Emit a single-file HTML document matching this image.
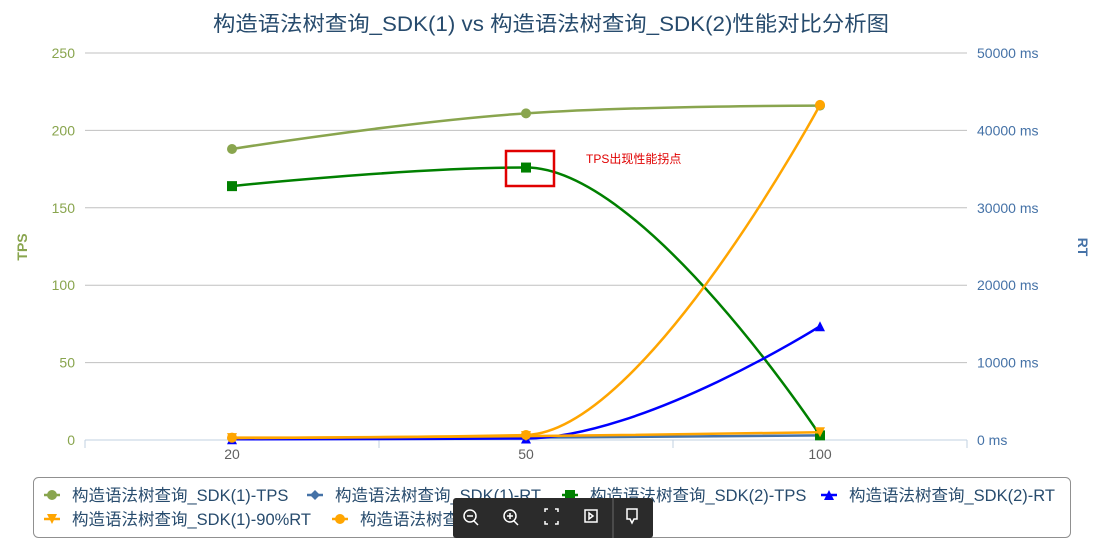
<!DOCTYPE html>
<html><head><meta charset="utf-8"><style>
body{margin:0;background:#fff;width:1105px;height:551px;overflow:hidden;font-family:"Liberation Sans","Noto Sans CJK SC",sans-serif}
svg{position:absolute;left:0;top:0}
#tb{position:absolute;left:453px;top:498px;width:200px;height:40px;background:#2b2b2b;border-radius:3px;}
</style></head><body>
<svg id="c" width="1105" height="551"></svg>
<div id="tb">
<svg width="200" height="40">
<g stroke="#fff" fill="none" stroke-width="1.5">
<g><circle cx="17" cy="18" r="6"/><line x1="14" y1="18" x2="20" y2="18"/><line x1="21" y1="23" x2="25" y2="27"/></g>
<g><circle cx="57" cy="18" r="6"/><line x1="54" y1="18" x2="60" y2="18"/><line x1="57" y1="15" x2="57" y2="21"/><line x1="61" y1="23" x2="65" y2="27"/></g>
<g><path d="M92 14v-3h3M105 14v-3h-3M92 23v3h3M105 23v3h-3"/></g>
<g><rect x="132" y="12" width="12" height="12"/><path d="M136 15l4 3-4 3z"/></g>
<line x1="160" y1="0" x2="160" y2="40" stroke="#555"/>
<g><path d="M174 11h10v10h-3l-2 4-2-4h-3z"/></g>
</g></svg></div>
<script>
const categories=['20','50','100'];
const tpsTicks=[0,50,100,150,200,250];
const rtTicks=[0,10000,20000,30000,40000,50000];
const sdk1Tps=[188,211,216];
const sdk1Rt=[150,300,600];
const sdk2Tps=[164,176,3];
const sdk2Rt=[100,200,14700];
const sdk1Rt90=[250,500,1000];
const sdk2Rt90=[300,650,43300];

const NS='http://www.w3.org/2000/svg';
const svg=document.getElementById('c');
function mk(t,a,p){const e=document.createElementNS(NS,t);for(const k in a)e.setAttribute(k,a[k]);(p||svg).appendChild(e);return e;}
const L=85,R=967,T=53,B=440;
const band=(R-L)/categories.length;
const xS=i=>L+band*(i+0.5);
const yL=v=>B-(v/250)*(B-T);
const yR=v=>B-(v/50000)*(B-T);

let t=mk('text',{x:213,y:31,'font-size':21,fill:'#274b6d',textLength:676,lengthAdjust:'spacingAndGlyphs'});
t.textContent='构造语法树查询_SDK(1) vs 构造语法树查询_SDK(2)性能对比分析图';



tpsTicks.forEach((v,i)=>{
 const g=mk('line',{x1:L,x2:R,y1:yL(v),y2:yL(v),stroke:i==0?'#c0d0e0':'#c0c0c0','stroke-width':1});
 
 
 const l=mk('text',{x:75,y:yL(v)+5,'text-anchor':'end','font-size':14,fill:'#89a54e'});
 l.textContent=v;
 
 
});
rtTicks.forEach(v=>{
 const l=mk('text',{x:977,y:yR(v)+5,'font-size':14,fill:'#4572a7'});
 l.textContent=v+' ms';
 
 
});
for(let i=0;i<=categories.length;i++){
 const tk=mk('line',{x1:L+band*i,x2:L+band*i,y1:B,y2:B+8,stroke:'#c0d0e0'});
 
 
}
categories.forEach((c,i)=>{
 const l=mk('text',{x:xS(i),y:459,'text-anchor':'middle','font-size':14,fill:'#606060'});
 l.textContent=c;
 
 
});
let at=mk('text',{x:0,y:0,transform:'translate(27,247) rotate(-90)','text-anchor':'middle','font-size':14,'font-weight':'bold',fill:'#89a54e'});
at.textContent='TPS';


at=mk('text',{x:0,y:0,transform:'translate(1078,247) rotate(90)','text-anchor':'middle','font-size':14,'font-weight':'bold',fill:'#4572a7'});
at.textContent='RT';



function spline(pts){
 let d='M'+pts[0][0]+' '+pts[0][1];
 const s=1.5,den=s+1;
 const ctrl=[];
 for(let i=0;i<pts.length;i++){
  if(i==0||i==pts.length-1){ctrl.push(null);continue;}
  const [x,y]=pts[i],[lx,ly]=pts[i-1],[nx,ny]=pts[i+1];
  let lcx=(s*x+lx)/den,lcy=(s*y+ly)/den,rcx=(s*x+nx)/den,rcy=(s*y+ny)/den;
  const corr=((rcy-lcy)*(rcx-x))/(rcx-lcx)+y-rcy;
  lcy+=corr;rcy+=corr;
  if(lcy>ly&&lcy>y){lcy=Math.max(ly,y);rcy=2*y-lcy;}else if(lcy<ly&&lcy<y){lcy=Math.min(ly,y);rcy=2*y-lcy;}
  if(rcy>ny&&rcy>y){rcy=Math.max(ny,y);lcy=2*y-rcy;}else if(rcy<ny&&rcy<y){rcy=Math.min(ny,y);lcy=2*y-rcy;}
  ctrl.push([lcx,lcy,rcx,rcy]);
 }
 for(let i=1;i<pts.length;i++){
  const p=ctrl[i-1],c=ctrl[i];
  const c1=p?[p[2],p[3]]:pts[i-1],c2=c?[c[0],c[1]]:pts[i];
  d+=` C${c1[0]} ${c1[1]} ${c2[0]} ${c2[1]} ${pts[i][0]} ${pts[i][1]}`;
 }
 return d;
}
const series=[
 {n:'构造语法树查询_SDK(1)-TPS',v:sdk1Tps,ax:yL,c:'#89a54e',m:'circle',id:'sdk1-tps'},
 {n:'构造语法树查询_SDK(1)-RT',v:sdk1Rt,ax:yR,c:'#4572a7',m:'diamond',id:'sdk1-rt'},
 {n:'构造语法树查询_SDK(2)-TPS',v:sdk2Tps,ax:yL,c:'#008000',m:'square',id:'sdk2-tps'},
 {n:'构造语法树查询_SDK(2)-RT',v:sdk2Rt,ax:yR,c:'#0000ff',m:'triangle',id:'sdk2-rt'},
 {n:'构造语法树查询_SDK(1)-90%RT',v:sdk1Rt90,ax:yR,c:'#ffa500',m:'tdown',id:'sdk1-rt90'},
 {n:'构造语法树查询_SDK(2)-90%RT',v:sdk2Rt90,ax:yR,c:'#ffa500',m:'circle',id:'sdk2-rt90'}
];
function marker(m,x,y,c,r,g){
 let e;
 if(m=='circle')e=mk('circle',{cx:x,cy:y,r:r,fill:c},g);
 else if(m=='square')e=mk('rect',{x:x-r,y:y-r,width:2*r,height:2*r,fill:c},g);
 else if(m=='diamond')e=mk('path',{d:`M${x} ${y-r}L${x+r} ${y}L${x} ${y+r}L${x-r} ${y}Z`,fill:c},g);
 else if(m=='triangle')e=mk('path',{d:`M${x} ${y-r}L${x+r} ${y+r}L${x-r} ${y+r}Z`,fill:c},g);
 else e=mk('path',{d:`M${x-r} ${y-r}L${x+r} ${y-r}L${x} ${y+r}Z`,fill:c},g);
 return e;
}
series.forEach(s=>{
 const g=mk('g',{});
 
 
 const pts=s.v.map((v,i)=>[xS(i),s.ax(v)]);
 const p=mk('path',{d:spline(pts),fill:'none',stroke:s.c,'stroke-width':2.5},g);
 
 
 pts.forEach(q=>{
  const e=marker(s.m,q[0],q[1],s.c,5,g);
  
  
 });
});
let box=mk('rect',{x:506,y:151,width:48,height:35,fill:'none',stroke:'#e00000','stroke-width':2.5});


let an=mk('text',{x:586,y:163,'font-size':12,fill:'#e00000'});
an.textContent='TPS出现性能拐点';



let lb=mk('rect',{x:33.5,y:477.5,width:1037,height:60,rx:5,fill:'#fff',stroke:'#909090'});


const lpos=[[52,495],[315,495],[570,495],[829,495],[52,519],[340,519]];
series.forEach((s,i)=>{
 const g=mk('g',{});
 
 
 const [x,y]=lpos[i];
 mk('line',{x1:x-8,x2:x+8,y1:y,y2:y,stroke:s.c,'stroke-width':2.5},g);
 marker(s.m,x,y,s.c,5,g);
 const tx=mk('text',{x:x+20,y:y+6,'font-size':16.5,fill:'#274b6d'},g);
 tx.textContent=s.n;
});
</script>
</body></html>
